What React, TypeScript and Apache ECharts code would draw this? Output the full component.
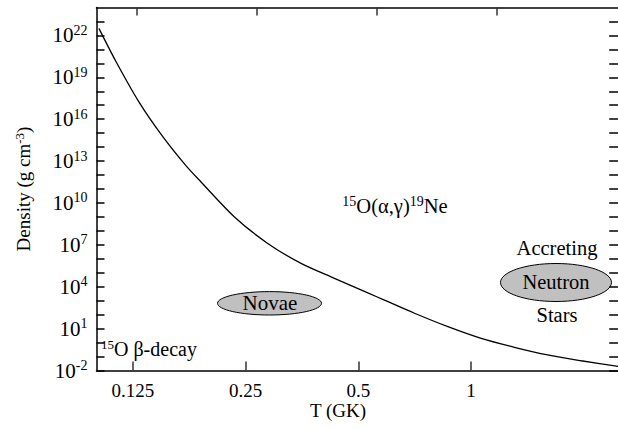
import React, { useEffect, useRef } from 'react';
import * as echarts from 'echarts';

// Curve: density at which 15O(alpha,gamma)19Ne equals 15O beta-decay
const temperatureGK = [0.1015, 0.1128, 0.13, 0.1503, 0.1735, 0.1901, 0.2335, 0.2865, 0.3516, 0.4317, 0.53, 0.587, 0.706, 0.867, 1.064, 1.305, 1.6, 1.966, 2.5];
const densityGcm3 = [3.2e22, 1.3e20, 1.6e17, 5.6e14, 4.5e12, 3.2e11, 1.0e9, 1.26e7, 4.7e5, 4.0e4, 3.6e3, 1.1e3, 126, 13.8, 2.0, 0.46, 0.13, 0.05, 0.0186];

const xTickValues = [0.125, 0.25, 0.5, 1];
const topTickValues = [0, 1, 2, 3];
const yLabelExponents = [-2, 1, 4, 7, 10, 13, 16, 19, 22];
const yTickExponents = [-2, -1, 0, 1, 2, 3, 4, 5, 6, 7, 8, 9, 10, 11, 12, 13, 14, 15, 16, 17, 18, 19, 20, 21, 22, 23, 24];

const FONT = "'Liberation Serif', 'Times New Roman', Times, serif";
const font = (size: number) => `${size}px ${FONT}`;

export default function App() {
  const ref = useRef<HTMLDivElement>(null);
  useEffect(() => {
    if (!ref.current) return;
    const chart = echarts.init(ref.current, undefined, { renderer: 'svg' });
    const lineStyle = { color: '#000', width: 1.5 };
    const sup = { fontSize: 14, fontFamily: FONT, color: '#000', lineHeight: 12, verticalAlign: 'top' as const };
    const base = { fontSize: 20.5, fontFamily: FONT, color: '#000', lineHeight: 23 };
    const sup2 = { fontSize: 13, fontFamily: FONT, color: '#000', lineHeight: 12, verticalAlign: 'top' as const };
    const base2 = { fontSize: 20, fontFamily: FONT, color: '#000', lineHeight: 22 };
    const plainText = (text: string, x: number, y: number, size: number) => ({
      type: 'text',
      x,
      y,
      style: { text, font: font(size), fontSize: size, fontFamily: FONT, fill: '#000', align: 'center', verticalAlign: 'middle' },
    });
    chart.setOption({
      animation: false,
      backgroundColor: '#fff',
      textStyle: { fontFamily: FONT },
      grid: { left: 96.5, right: -2.2, top: 7.5, bottom: 58.5, containLabel: false, outerBoundsMode: 'none' },
      xAxis: [
        {
          type: 'log',
          logBase: 2,
          min: 0.1,
          max: 2.5,
          position: 'bottom',
          axisLine: { show: true, onZero: false, lineStyle },
          axisTick: { show: true, inside: true, length: 9, customValues: xTickValues, lineStyle: { color: '#333', width: 1.5 } },
          axisLabel: {
            customValues: xTickValues,
            formatter: (v: number) => String(+v.toPrecision(3)),
            fontSize: 19,
            fontFamily: FONT,
            color: '#000',
            margin: 10,
          },
          splitLine: { show: false },
          minorTick: { show: false },
        },
        {
          type: 'value',
          min: -0.335,
          max: 4.029,
          position: 'top',
          axisLine: { show: true, onZero: false, lineStyle },
          axisTick: { show: true, inside: true, length: 8, customValues: topTickValues, lineStyle: { color: '#333', width: 1.5 } },
          axisLabel: { show: false },
          splitLine: { show: false },
        },
      ],
      yAxis: [
        {
          type: 'log',
          logBase: 10,
          min: 1e-2,
          max: 1e24,
          position: 'left',
          axisLine: { show: true, onZero: false, lineStyle },
          axisTick: { show: true, inside: true, length: 8, customValues: yTickExponents.map((e) => 10 ** e), lineStyle: { color: '#000', width: 1.5 } },
          axisLabel: {
            customValues: yLabelExponents.map((e) => 10 ** e),
            formatter: (v: number) => '{b|10}{s|' + Math.round(Math.log10(v)) + '}',
            rich: {
              b: { fontSize: 21, fontFamily: FONT, color: '#000', lineHeight: 24 },
              s: { fontSize: 14, fontFamily: FONT, color: '#000', lineHeight: 13, verticalAlign: 'top' },
            },
            margin: 9,
          },
          splitLine: { show: false },
          name: '{a|Density (g cm}{s|-3}{a|)}',
          nameLocation: 'middle',
          nameGap: 62,
          nameRotate: 90,
          nameTextStyle: {
            rich: {
              a: { fontSize: 19, fontFamily: FONT, color: '#000', lineHeight: 22 },
              s: { fontSize: 13, fontFamily: FONT, color: '#000', lineHeight: 12, verticalAlign: 'top' },
            },
          },
        },
        {
          type: 'log',
          logBase: 10,
          min: 1e-2,
          max: 1e24,
          position: 'right',
          axisLine: { show: true, onZero: false, lineStyle },
          axisTick: { show: true, inside: true, length: 11, customValues: yTickExponents.map((e) => 10 ** e), lineStyle: { color: '#000', width: 1.5 } },
          axisLabel: { show: false },
          splitLine: { show: false },
        },
      ],
      series: [
        {
          type: 'line',
          xAxisIndex: 0,
          yAxisIndex: 0,
          data: temperatureGK.map((t, i) => [t, densityGcm3[i]]),
          showSymbol: false,
          smooth: 0.3,
          lineStyle: { color: '#000', width: 1.3 },
          clip: true,
        },
      ],
      graphic: [
        plainText('T (GK)', 338, 410, 19),
        {
          type: 'ellipse',
          shape: { cx: 269.5, cy: 303.3, rx: 52, ry: 11.7 },
          style: { fill: '#c0c0c0', stroke: '#000', lineWidth: 1 },
        },
        plainText('Novae', 270, 303, 21),
        {
          type: 'ellipse',
          shape: { cx: 556, cy: 282.5, rx: 55.5, ry: 19 },
          style: { fill: '#c0c0c0', stroke: '#000', lineWidth: 1 },
        },
        plainText('Accreting', 557, 248, 20.5),
        plainText('Neutron', 556, 282, 20.5),
        plainText('Stars', 557, 315, 20.5),
        {
          type: 'text',
          x: 395,
          y: 206,
          style: {
            text: '{s|15}{b|O(α,γ)}{s|19}{b|Ne}',
            rich: { s: sup, b: base },
            align: 'center',
            verticalAlign: 'middle',
          },
        },
        {
          type: 'text',
          x: 101,
          y: 349,
          style: {
            text: '{s|15}{b|O β-decay}',
            rich: { s: sup2, b: base2 },
            align: 'left',
            verticalAlign: 'middle',
          },
        },
      ],
    });
    return () => chart.dispose();
  }, []);
  return <div ref={ref} style={{ position: 'fixed', left: 0, top: 0, width: 618, height: 429, background: '#fff' }} />;
}
